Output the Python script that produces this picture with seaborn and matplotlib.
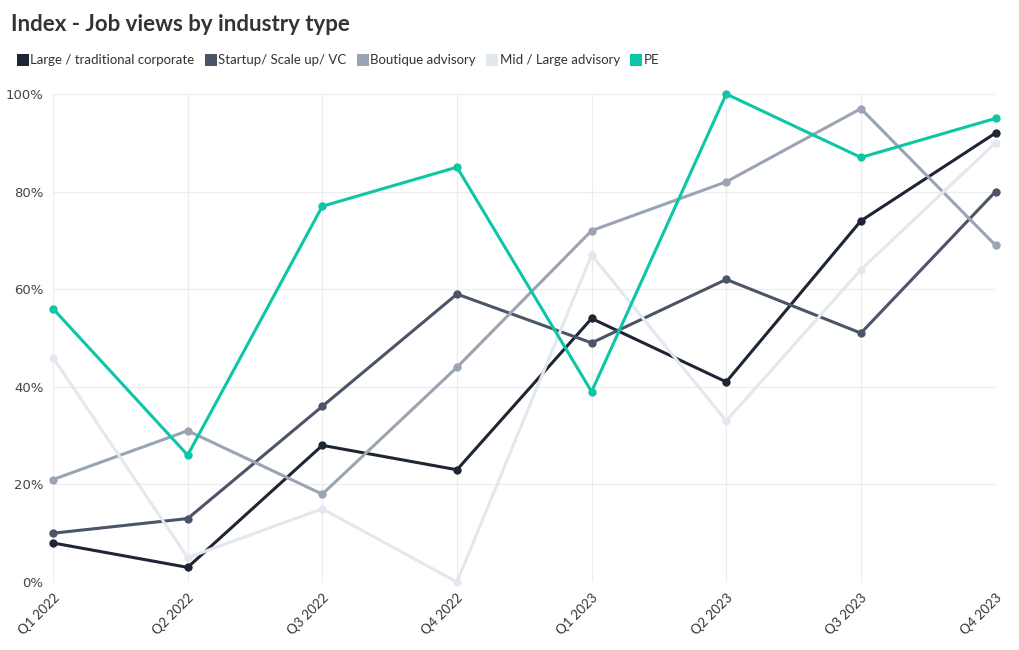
import numpy as np
import pandas as pd
import seaborn as sns
import matplotlib.pyplot as plt
from matplotlib.lines import Line2D

quarters = ['Q1 2022', 'Q2 2022', 'Q3 2022', 'Q4 2022', 'Q1 2023', 'Q2 2023', 'Q3 2023', 'Q4 2023']
large_corp = [8, 3, 28, 23, 54, 41, 74, 92]
startup = [10, 13, 36, 59, 49, 62, 51, 80]
boutique = [21, 31, 18, 44, 72, 82, 97, 69]
mid_large = [46, 5, 15, 0, 67, 33, 64, 90]
pe = [56, 26, 77, 85, 39, 100, 87, 95]

series_names = ['Large / traditional corporate', 'Startup/ Scale up/ VC', 'Boutique advisory',
                'Mid / Large advisory', 'PE']
colors = ['#1e2535', '#4b5567', '#9aa4b3', '#e3e7ee', '#0cc6a5']

df = pd.DataFrame({'quarter': quarters * 5,
                   'x': list(range(len(quarters))) * 5,
                   'value': large_corp + startup + boutique + mid_large + pe,
                   'series': np.repeat(series_names, len(quarters))})

sns.set_style('white')
plt.rcParams['font.family'] = ['Lato', 'DejaVu Sans']

fig = plt.figure(figsize=(10.2, 6.5), dpi=100)
ax = fig.add_axes([0.052, 0.1046, 0.924, 0.7508])

sns.lineplot(data=df, x='x', y='value', hue='series', hue_order=series_names,
             palette=colors, marker='o', markersize=6, markeredgewidth=0,
             linewidth=2.2, legend=False, ax=ax)
for ln in ax.lines:
    ln.set_clip_on(False)

ax.set_xlim(0, len(quarters) - 1)
ax.set_ylim(0, 100)
ax.set_yticks([0, 20, 40, 60, 80, 100])
ax.set_yticklabels([f'{v}%' for v in [0, 20, 40, 60, 80, 100]], family='DejaVu Sans',
                   fontsize=9.5, color='#444444')
ax.set_xticks(range(len(quarters)))
ax.set_xticklabels(quarters, rotation=45, ha='right', rotation_mode='anchor',
                   fontsize=9.5, color='#333333')
ax.tick_params(axis='both', length=4, color='#e6e6e6', pad=3)
ax.grid(True, color='#ececec', linewidth=0.8)
ax.set_axisbelow(True)
for s in ax.spines.values():
    s.set_visible(False)
ax.set_xlabel('')
ax.set_ylabel('')

fig.text(0.011, 0.963, 'Index - Job views by industry type', fontsize=16,
         fontweight='bold', color='#333333', va='center')

handles = [Line2D([0], [0], marker='s', linestyle='', markersize=9,
                  markerfacecolor=c, markeredgewidth=0) for c in colors]
fig.legend(handles, series_names, loc='center left', bbox_to_anchor=(0.004, 0.907),
           ncol=5, frameon=False, fontsize=9.5, handletextpad=0.1,
           columnspacing=0.7, handlelength=1.0, labelcolor='#333333')

plt.savefig('out.png', dpi=100)
